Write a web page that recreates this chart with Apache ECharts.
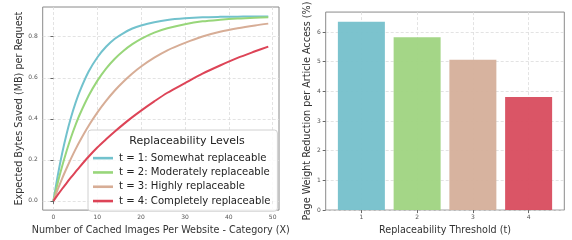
<!DOCTYPE html>
<html>
<head>
<meta charset="utf-8">
<script src="https://cdn.jsdelivr.net/npm/echarts@6/dist/echarts.min.js"></script>
<style>
  html, body { margin: 0; padding: 0; background: #fff; }
  #chart { width: 572px; height: 240px; }
</style>
</head>
<body>
<div id="chart"></div>
<script>
// left: expected bytes saved vs number of cached images
const xValues = [0, 1, 2, 3, 4, 5, 6, 8, 10, 12, 14, 16, 18, 20, 23, 26, 30, 34, 38, 42, 46, 49];
const seriesNames = [
  't = 1: Somewhat replaceable',
  't = 2: Moderately replaceable',
  't = 3: Highly replaceable',
  't = 4: Completely replaceable',
];
const t1 = [0, 0.125, 0.233, 0.326, 0.406, 0.475, 0.534, 0.629, 0.699, 0.751, 0.790, 0.818, 0.840, 0.855, 0.871, 0.882, 0.890, 0.895, 0.897, 0.898, 0.899, 0.899];
const t2 = [0, 0.090, 0.170, 0.243, 0.309, 0.368, 0.421, 0.511, 0.585, 0.645, 0.693, 0.732, 0.764, 0.790, 0.820, 0.841, 0.861, 0.875, 0.883, 0.889, 0.893, 0.895];
const t3 = [0, 0.057, 0.110, 0.159, 0.206, 0.250, 0.291, 0.365, 0.430, 0.487, 0.538, 0.582, 0.621, 0.655, 0.698, 0.734, 0.770, 0.801, 0.824, 0.841, 0.855, 0.864];
const t4 = [0, 0.030, 0.059, 0.087, 0.114, 0.140, 0.166, 0.215, 0.260, 0.300, 0.338, 0.374, 0.408, 0.440, 0.485, 0.527, 0.574, 0.620, 0.660, 0.697, 0.729, 0.752];
const xTicks = [0, 10, 20, 30, 40, 50];
const yTicks = [0, 0.2, 0.4, 0.6, 0.8];

// right: page weight reduction per threshold
const thresholds = [1, 2, 3, 4];
const reduction = [6.34, 5.82, 5.06, 3.81];
const barTicks = [0, 1, 2, 3, 4, 5, 6];

const lineColors = ['#72c2cd', '#98d67a', '#d7ad96', '#dd4457'];
const barColors = ['#78c1cc', '#a1d583', '#d6b19c', '#d95061'];

const font = 'DejaVu Sans';
const frameColor = '#8a8a8a';
const gridLine = { show: true, lineStyle: { color: '#dcdcdc', type: [3, 2], width: 0.8 } };
const tickLabel = { color: '#555', fontSize: 6, fontFamily: font };
const nameStyle = { color: '#333', fontSize: 9.6, fontFamily: font };

function pairs(ys) {
  return xValues.map((x, i) => [x, ys[i]]);
}

const chart = echarts.init(document.getElementById('chart'), null, { renderer: 'canvas' });
chart.setOption({
  animation: false,
  grid: [
    { left: 42.7, top: 7, width: 236.3, height: 204, show: true, borderColor: frameColor, borderWidth: 1, backgroundColor: '#fff' },
    { left: 325.7, top: 7, width: 238.6, height: 204, show: true, borderColor: frameColor, borderWidth: 1, backgroundColor: '#fff' },
  ],
  title: {
    text: 'Replaceability Levels',
    left: 182, top: 131, textAlign: 'center',
    textStyle: { fontFamily: font, fontSize: 11, fontWeight: 'normal', color: '#222' },
  },
  legend: {
    data: seriesNames,
    orient: 'vertical',
    left: 88, top: 130,
    padding: [21, 7, 3, 5],
    itemGap: 0,
    itemWidth: 20, itemHeight: 2.6,
    icon: 'rect',
    backgroundColor: 'rgba(255,255,255,0.85)',
    borderColor: '#d0d0d0', borderWidth: 1, borderRadius: 3,
    textStyle: { fontFamily: font, fontSize: 10.1, color: '#222', lineHeight: 14.3, padding: [0, 0, 0, 1] },
  },
  xAxis: [
    {
      gridIndex: 0, type: 'value', min: -2.45, max: 51.45,
      name: 'Number of Cached Images Per Website - Category (X)',
      nameLocation: 'middle', nameGap: 12, nameTextStyle: nameStyle,
      axisLine: { show: false },
      axisTick: { show: true, length: 3, customValues: xTicks, lineStyle: { color: '#666' } },
      axisLabel: { ...tickLabel, margin: 4, customValues: xTicks },
      splitLine: gridLine,
    },
    {
      gridIndex: 1, type: 'value', min: 0.36, max: 4.64,
      name: 'Replaceability Threshold (t)',
      nameLocation: 'middle', nameGap: 13, nameTextStyle: nameStyle,
      axisLine: { show: false },
      axisTick: { show: true, length: 3, customValues: thresholds, lineStyle: { color: '#666' } },
      axisLabel: { ...tickLabel, margin: 4, customValues: thresholds },
      splitLine: gridLine,
    },
  ],
  yAxis: [
    {
      gridIndex: 0, type: 'value', min: -0.045, max: 0.945,
      name: 'Expected Bytes Saved (MB) per Request',
      nameLocation: 'middle', nameGap: 17, nameTextStyle: nameStyle,
      axisLine: { show: false },
      axisTick: { show: true, length: 3, customValues: yTicks, lineStyle: { color: '#666' } },
      axisLabel: { ...tickLabel, margin: 5, customValues: yTicks, formatter: v => v.toFixed(1) },
      splitLine: gridLine,
    },
    {
      gridIndex: 1, type: 'value', min: 0, max: 6.67,
      name: 'Page Weight Reduction per Article Access (%)',
      nameLocation: 'middle', nameGap: 12, nameTextStyle: nameStyle,
      axisLine: { show: false },
      axisTick: { show: true, length: 3, customValues: barTicks, lineStyle: { color: '#666' } },
      axisLabel: { ...tickLabel, margin: 5, customValues: barTicks },
      splitLine: gridLine,
    },
  ],
  series: [
    ...[t1, t2, t3, t4].map((ys, i) => ({
      name: seriesNames[i],
      type: 'line',
      xAxisIndex: 0, yAxisIndex: 0,
      data: pairs(ys),
      smooth: 0.3,
      showSymbol: false,
      itemStyle: { color: lineColors[i] },
      lineStyle: { color: lineColors[i], width: 2 },
      z: 2 + i,
    })),
    {
      type: 'bar',
      xAxisIndex: 1, yAxisIndex: 1,
      barWidth: 47,
      data: thresholds.map((t, i) => ({
        value: [t, reduction[i]],
        itemStyle: { color: barColors[i], opacity: 0.97 },
      })),
    },
  ],
});
</script>
</body>
</html>
